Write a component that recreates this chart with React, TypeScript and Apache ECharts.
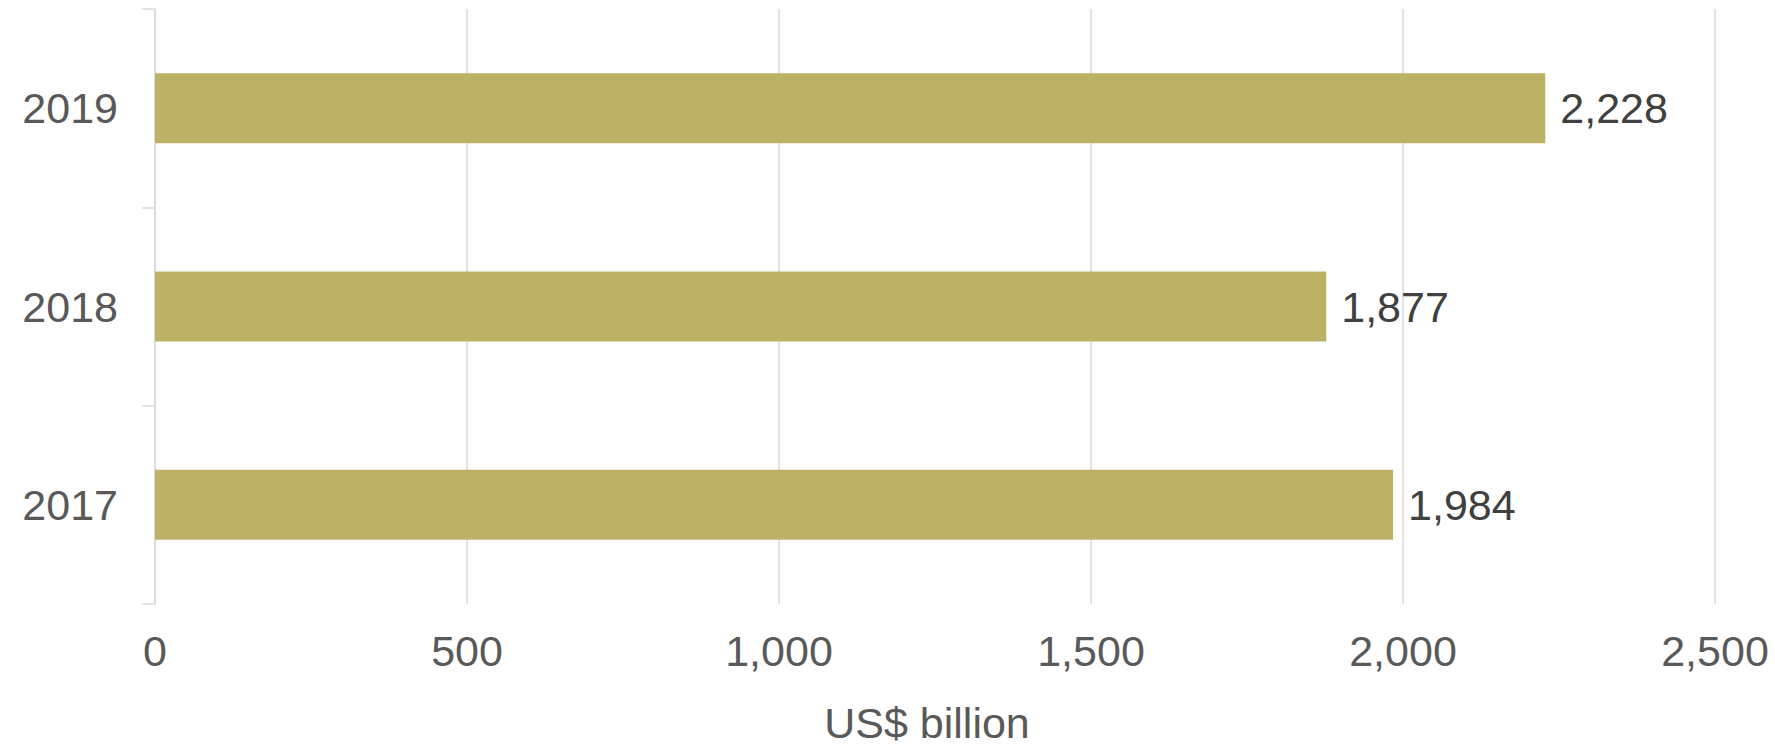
import React, { useEffect, useRef } from "react";
import * as echarts from "echarts";

const years = ["2017", "2018", "2019"];
const values = [1984, 1877, 2228];
const xTicks = [0, 500, 1000, 1500, 2000, 2500];
const axisName = "US$ billion";

const fmt = (v: number) => v.toLocaleString("en-US");

export default function App() {
  const ref = useRef<HTMLDivElement>(null);
  useEffect(() => {
    if (!ref.current) return;
    const chart = echarts.init(ref.current, null, { renderer: "svg" });
    chart.setOption({
      animation: false,
      backgroundColor: "#ffffff",
      textStyle: { fontFamily: "'Liberation Sans', Arial, sans-serif" },
      grid: { left: 155, right: 60, top: 9, bottom: 133, containLabel: false },
      xAxis: {
        type: "value",
        min: xTicks[0],
        max: xTicks[xTicks.length - 1],
        interval: 500,
        axisLine: { show: false },
        axisTick: { show: false },
        splitLine: { show: true, lineStyle: { color: "#d9d9d9", width: 1.5 } },
        axisLabel: {
          color: "#595959",
          fontSize: 43,
          margin: 25,
          formatter: (v: number) => fmt(v),
        },
        name: axisName,
        nameLocation: "middle",
        nameGap: 97,
        nameTextStyle: { color: "#595959", fontSize: 43, padding: [0, 16, 0, 0] },
      },
      yAxis: {
        type: "category",
        data: years,
        axisLine: { show: true, lineStyle: { color: "#d9d9d9", width: 1.5 } },
        axisTick: { show: true, length: 13, lineStyle: { color: "#d9d9d9", width: 1.5 } },
        axisLabel: { color: "#595959", fontSize: 43, margin: 37 },
        splitLine: { show: false },
      },
      series: [
        {
          type: "bar",
          data: values,
          barWidth: 70,
          itemStyle: { color: "#bbb265" },
          label: {
            show: true,
            position: "right",
            distance: 15,
            color: "#404040",
            fontSize: 43,
            formatter: (p: any) => fmt(p.value),
          },
        },
      ],
    });
    return () => chart.dispose();
  }, []);
  return (
    <div
      ref={ref}
      style={{ position: "fixed", left: 0, top: 0, width: 1775, height: 749 }}
    />
  );
}
